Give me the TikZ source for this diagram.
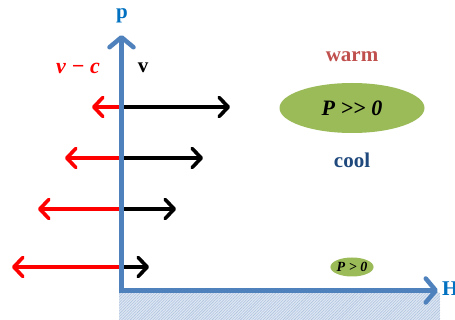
\documentclass[tikz,border=0pt]{standalone}
\usepackage{fontspec}
\setmainfont{Liberation Serif}
\usetikzlibrary{arrows.meta,shapes.geometric,patterns.meta}
\definecolor{axisblue}{RGB}{79,129,189}
\definecolor{labelblue}{RGB}{0,112,192}
\definecolor{warmred}{RGB}{192,80,77}
\definecolor{cooldark}{RGB}{31,73,125}
\definecolor{ellgreen}{RGB}{155,187,89}
\definecolor{hatchbg}{RGB}{222,231,243}
\definecolor{hatchline}{RGB}{175,196,224}
\tikzset{
  vec/.style={line width=3.6pt, line cap=round, -{Straight Barb[length=9pt,width=19pt,line cap=round,line join=round]}},
  redvec/.style={vec, draw=red},
  blackvec/.style={vec, draw=black},
  axis/.style={draw=axisblue, line width=4.5pt, -{Straight Barb[length=10pt,width=24pt,line cap=round,line join=round]}},
  lab/.style={font=\fontsize{21}{21}\selectfont\bfseries, inner sep=0pt},
  pstate/.style={ellipse, fill=ellgreen, inner sep=0pt, font=\bfseries\itshape},
}
\begin{document}
\begin{tikzpicture}[x=1pt,y=-1pt]
\useasboundingbox (0,0) rectangle (455,320);
% hatched ground
\fill[hatchbg] (119,293) rectangle (440,320);
\fill[pattern={Lines[angle=45,distance=2pt,line width=0.6pt]}, pattern color=hatchline] (119,293) rectangle (440,320);
% arrow coordinates
\coordinate (o1) at (121.5,107);
\coordinate (o2) at (121.5,158);
\coordinate (o3) at (121.5,209);
\coordinate (o4) at (121.5,267);
\coordinate (r1) at (92,107);
\coordinate (r2) at (65,158);
\coordinate (r3) at (38,209);
\coordinate (r4) at (12,267);
\coordinate (b1) at (230,107);
\coordinate (b2) at (203,158);
\coordinate (b3) at (176,209);
\coordinate (b4) at (149,267);
\foreach \i in {1,2,3,4}{
  \draw[redvec] (o\i) -- (r\i);
  \draw[blackvec] (o\i) -- (b\i);
}
% axes
\coordinate (corner) at (121.5,292);
\coordinate (ptip) at (121.5,35);
\coordinate (hstart) at (119,290.5);
\coordinate (htip) at (438,290.5);
\draw[axis] (corner) -- (ptip);
\draw[axis] (hstart) -- (htip);
\node[lab, text=labelblue] (plab) at (122,16) {p};
\node[lab, text=labelblue, anchor=west] (hlab) at (442,289) {H};
% velocity labels
\node[lab, text=red, font=\fontsize{22}{22}\selectfont\bfseries\itshape] (vc) at (78,68) {v − c};
\node[lab, text=black] (v) at (143,68) {v};
% states
\node[lab, text=warmred] (warm) at (352,57) {warm};
\node[pstate, minimum width=145pt, minimum height=50pt, font=\fontsize{22}{22}\selectfont\bfseries\itshape] (hot) at (352,108) {P {>}{>} 0};
\node[lab, text=cooldark] (cool) at (352,160) {cool};
\node[pstate, minimum width=38pt, minimum height=19pt, font=\fontsize{14}{14}\selectfont\bfseries\itshape] (cold) at (352,267) {P > 0};
\end{tikzpicture}
\end{document}
